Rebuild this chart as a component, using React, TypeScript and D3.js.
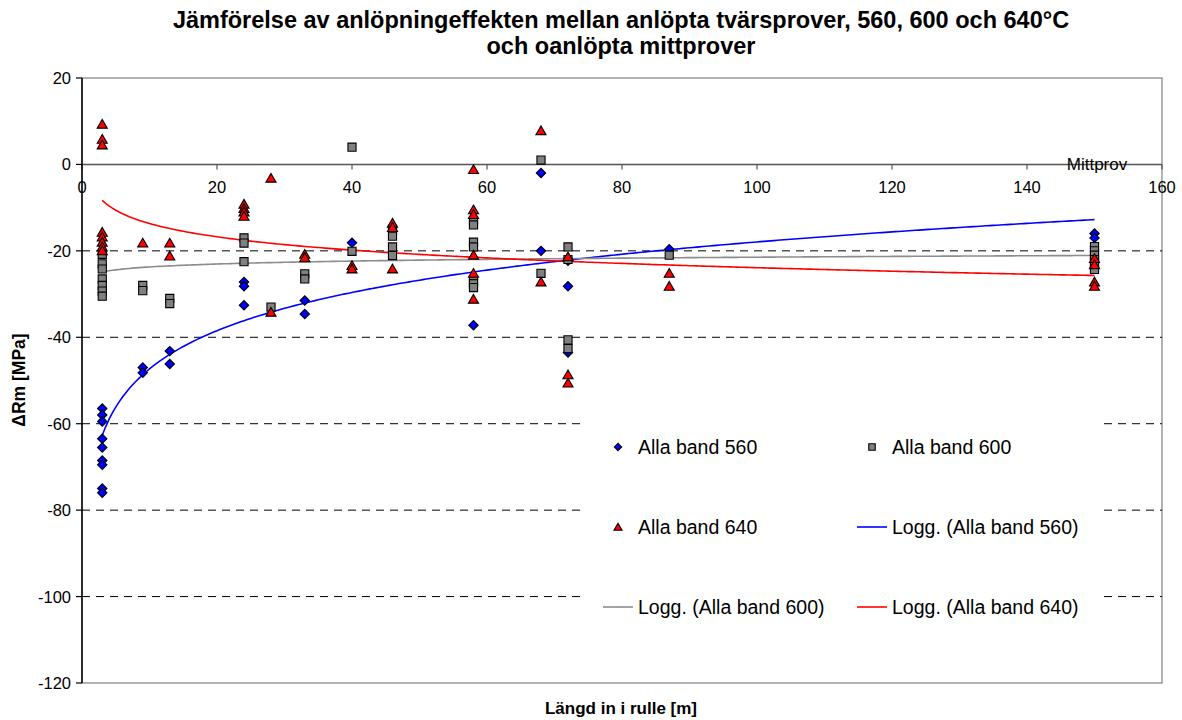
import React from "react";
import * as d3 from "d3";

// Measured tensile strength change, ΔRm [MPa], per position along the coil [m]
const band560: [number, number][] = [
  [3, -56.5], [3, -58], [3, -59.5], [3, -63.5], [3, -65.5], [3, -68.5], [3, -69.5], [3, -75], [3, -76],
  [9, -47], [9, -48.2],
  [13, -43.2], [13, -46.2],
  [24, -27.2], [24, -28.2], [24, -32.6],
  [33, -31.5], [33, -34.6],
  [40, -18.1],
  [58, -37.2],
  [68, -2], [68, -20],
  [72, -22.3], [72, -28.2], [72, -43.5],
  [87, -19.6],
  [150, -16], [150, -17],
];

const band600: [number, number][] = [
  [3, -20.8], [3, -23], [3, -24.2], [3, -26.5], [3, -28], [3, -29.3], [3, -30.5],
  [9, -28], [9, -29.2],
  [13, -31], [13, -32.2],
  [24, -17], [24, -18.2], [24, -22.5],
  [28, -33],
  [33, -25.3], [33, -26.5],
  [40, 4], [40, -20.1],
  [46, -15], [46, -16.6], [46, -19.1], [46, -21.1],
  [58, -13], [58, -14], [58, -18], [58, -19.1], [58, -26.9], [58, -27.6], [58, -28.5],
  [68, 1], [68, -25.2],
  [72, -19.1], [72, -22], [72, -40.6], [72, -42.6],
  [87, -21],
  [150, -19], [150, -20], [150, -21], [150, -22], [150, -23], [150, -24.3],
];

const band640: [number, number][] = [
  [3, 9.3], [3, 5.8], [3, 4.5], [3, -15.7], [3, -16.8], [3, -18], [3, -19.1], [3, -20],
  [9, -18.2],
  [13, -18.2], [13, -21.2],
  [24, -9.2], [24, -10.2], [24, -11], [24, -12],
  [28, -3.2], [28, -34.2],
  [33, -20.8], [33, -21.6],
  [40, -23.4], [40, -24.2],
  [46, -13.6], [46, -14.6], [46, -24.2],
  [58, -1.2], [58, -10.5], [58, -11.6], [58, -21], [58, -25.2], [58, -31.2],
  [68, 7.8], [68, -27.2],
  [72, -21.4], [72, -48.7], [72, -50.6],
  [87, -25.2], [87, -28.2],
  [150, -21.8], [150, -23.2], [150, -27.2], [150, -28.2],
];

// Logarithmic trend lines y = a + b·ln(x), fitted per series
const trendNames = ["Logg. (Alla band 560)", "Logg. (Alla band 600)", "Logg. (Alla band 640)"];
const trendA = [-76.7, -25.98, -3.45];
const trendB = [12.76, 0.98, -4.44];
const trendRange = [3, 150];

const xTicks = [0, 20, 40, 60, 80, 100, 120, 140, 160];
const yTicks = [20, 0, -20, -40, -60, -80, -100, -120];
const gridValues = [-20, -40, -60, -80, -100];

const titleLines = [
  "Jämförelse av anlöpningeffekten mellan anlöpta tvärsprover, 560, 600 och 640°C",
  "och oanlöpta mittprover",
];
const xTitle = "Längd in i rulle [m]";
const yTitle = "ΔRm [MPa]";
const mittLabel = "Mittprov";

const FONT = "Liberation Sans, Arial, sans-serif";

export default function App() {
  const W = 1182;
  const H = 720;
  const left = 82;
  const right = 1162;
  const top = 78;
  const bottom = 683;

  const x = d3.scaleLinear().domain([0, 160]).range([left, right]);
  const y = d3.scaleLinear().domain([-120, 20]).range([bottom, top]);

  const diamond = d3.symbol().type(d3.symbolSquare).size(44)();
  const square = d3.symbol().type(d3.symbolSquare).size(66)();
  const triangle = d3.symbol().type(d3.symbolTriangle).size(44)();
  const diamondL = d3.symbol().type(d3.symbolSquare).size(26)();
  const squareL = d3.symbol().type(d3.symbolSquare).size(42)();
  const triangleL = d3.symbol().type(d3.symbolTriangle).size(28)();

  const trendColors = ["#0000FF", "#8C8C8C", "#FF0000"];
  const trendPaths = trendA.map((a, i) => {
    const xs = d3.range(trendRange[0], trendRange[1] + 0.001, 0.5);
    return d3
      .line<number>()
      .x((v) => x(v))
      .y((v) => y(a + trendB[i] * Math.log(v)))(xs);
  });

  const markerStyle = { stroke: "#000", strokeWidth: 1.1 };

  // legend layout
  const lgBox = { x: 583, y: 402, w: 515, h: 250 };
  const rowY = [447, 527, 607];
  const col1Text = 638;
  const col2Text = 892;

  return (
    <svg width={W} height={H} style={{ position: "absolute", left: 0, top: 0, background: "#fff" }}>
      <rect x={0} y={0} width={W} height={H} fill="#fff" />
      {/* Title */}
      <text x={621} y={28} textAnchor="middle" fontFamily={FONT} fontWeight="bold" fontSize={23.5} fill="#000">
        {titleLines[0]}
      </text>
      <text x={621} y={54} textAnchor="middle" fontFamily={FONT} fontWeight="bold" fontSize={23.5} fill="#000">
        {titleLines[1]}
      </text>

      {/* plot frame */}
      <rect x={left} y={top} width={right - left} height={bottom - top} fill="none" stroke="#808080" strokeWidth={1.2} />

      {/* dashed grid */}
      {gridValues.map((v) => (
        <line key={v} x1={left} x2={right} y1={y(v)} y2={y(v)} stroke="#000" strokeWidth={1} strokeDasharray="8,6" />
      ))}

      {/* x axis on y=0 */}
      <line x1={left} x2={right} y1={y(0)} y2={y(0)} stroke="#555" strokeWidth={1.4} />
      {xTicks.map((t) => (
        <g key={t}>
          <line x1={x(t)} x2={x(t)} y1={y(0)} y2={y(0) + 5} stroke="#555" strokeWidth={1.2} />
          <text x={x(t)} y={y(0) + 29} textAnchor="middle" fontFamily={FONT} fontSize={16.5} fill="#000">
            {t}
          </text>
        </g>
      ))}
      <text x={1097} y={y(0) + 6} textAnchor="middle" fontFamily={FONT} fontSize={17} fill="#000">
        {mittLabel}
      </text>

      {/* y axis */}
      <line x1={left} x2={left} y1={top} y2={bottom} stroke="#000" strokeWidth={1.5} />
      {yTicks.map((t) => (
        <g key={t}>
          <line x1={left - 6} x2={left} y1={y(t)} y2={y(t)} stroke="#000" strokeWidth={1.2} />
          <text x={71} y={y(t) + 6} textAnchor="end" fontFamily={FONT} fontSize={16.5} fill="#000">
            {t}
          </text>
        </g>
      ))}

      {/* axis titles */}
      <text x={621} y={714} textAnchor="middle" fontFamily={FONT} fontWeight="bold" fontSize={17} fill="#000">
        {xTitle}
      </text>
      <text
        transform={`translate(25, 380) rotate(-90)`}
        textAnchor="middle"
        fontFamily={FONT}
        fontWeight="bold"
        fontSize={17.5}
        fill="#000"
      >
        {yTitle}
      </text>

      {/* trend lines */}
      {trendPaths.map((p, i) => (
        <path key={i} d={p ?? ""} fill="none" stroke={trendColors[i]} strokeWidth={1.6} />
      ))}

      {/* markers */}
      {band560.map(([vx, vy], i) => (
        <path key={"a" + i} d={diamond ?? ""} transform={`translate(${x(vx)},${y(vy)}) rotate(45)`} fill="#0000FF" {...markerStyle} />
      ))}
      {band600.map(([vx, vy], i) => (
        <path key={"b" + i} d={square ?? ""} transform={`translate(${x(vx)},${y(vy)})`} fill="#808080" {...markerStyle} />
      ))}
      {band640.map(([vx, vy], i) => (
        <path key={"c" + i} d={triangle ?? ""} transform={`translate(${x(vx)},${y(vy) + 1})`} fill="#FF0000" {...markerStyle} />
      ))}

      {/* legend */}
      <rect x={lgBox.x} y={lgBox.y} width={lgBox.w} height={lgBox.h} fill="#fff" />
      <g fontFamily={FONT} fontSize={19.5} fill="#000">
        <path d={diamondL ?? ""} transform={`translate(618,${rowY[0]}) rotate(45)`} fill="#0000FF" {...markerStyle} />
        <text x={col1Text} y={rowY[0] + 7}>Alla band 560</text>
        <path d={squareL ?? ""} transform={`translate(872,${rowY[0]})`} fill="#808080" {...markerStyle} />
        <text x={col2Text} y={rowY[0] + 7}>Alla band 600</text>

        <path d={triangleL ?? ""} transform={`translate(618,${rowY[1] + 1})`} fill="#FF0000" {...markerStyle} />
        <text x={col1Text} y={rowY[1] + 7}>Alla band 640</text>
        <line x1={857} x2={887} y1={rowY[1]} y2={rowY[1]} stroke={trendColors[0]} strokeWidth={1.6} />
        <text x={col2Text} y={rowY[1] + 7}>{trendNames[0]}</text>

        <line x1={603} x2={633} y1={rowY[2]} y2={rowY[2]} stroke={trendColors[1]} strokeWidth={1.6} />
        <text x={col1Text} y={rowY[2] + 7}>{trendNames[1]}</text>
        <line x1={857} x2={887} y1={rowY[2]} y2={rowY[2]} stroke={trendColors[2]} strokeWidth={1.6} />
        <text x={col2Text} y={rowY[2] + 7}>{trendNames[2]}</text>
      </g>
    </svg>
  );
}
